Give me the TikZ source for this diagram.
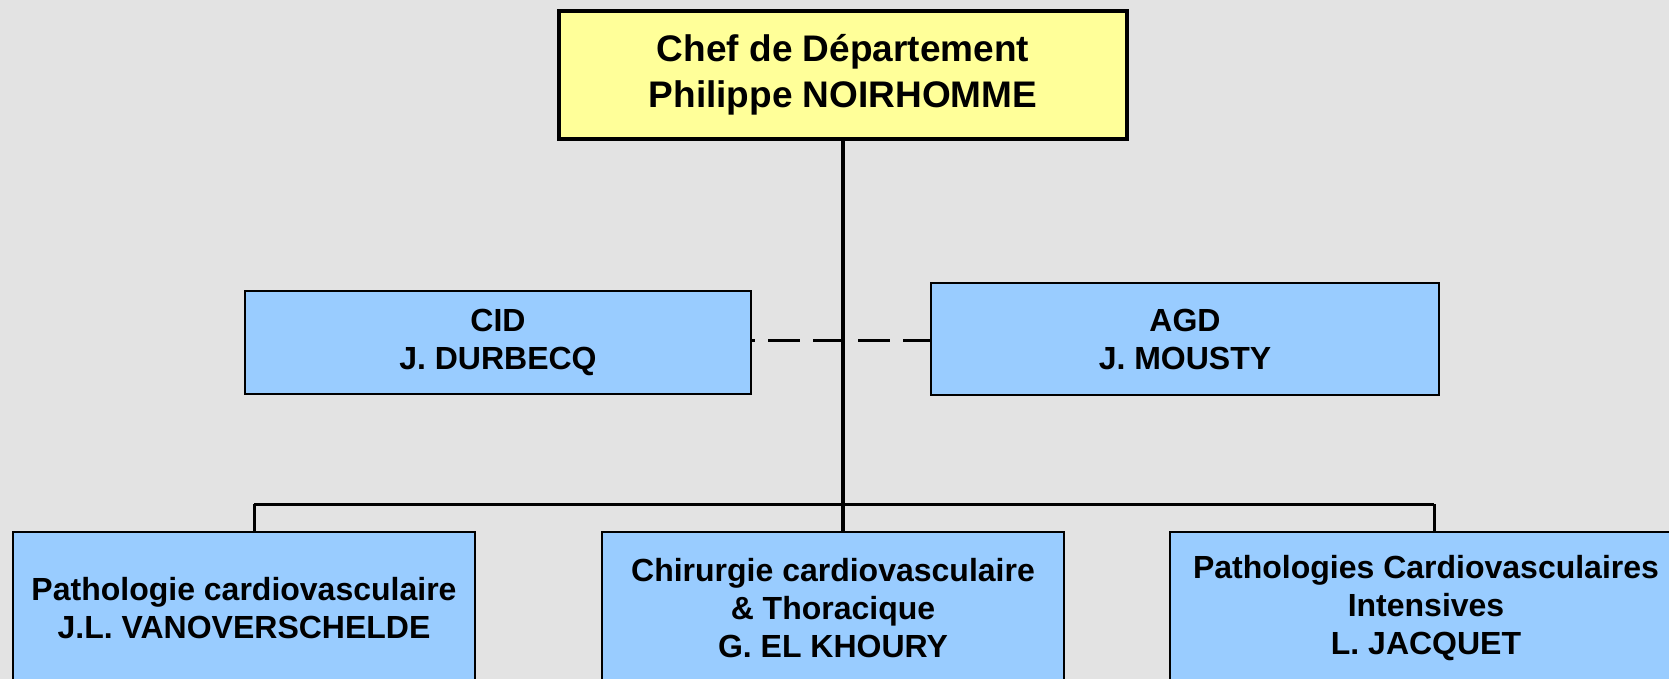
\documentclass[tikz,border=0pt]{standalone}
\usepackage{fontspec}
\setmainfont{Liberation Sans}
\definecolor{fondgris}{HTML}{E3E3E3}
\definecolor{jaunechef}{HTML}{FFFF99}
\definecolor{bleuservice}{HTML}{99CCFF}
\begin{document}
\begin{tikzpicture}[x=1pt,y=-1pt,line cap=butt,line join=miter,font=\bfseries]
		\tikzset{chefbox/.style={draw,fill=jaunechef,line width=4.5pt,inner sep=0pt,align=center,
				minimum width=568pt,minimum height=128pt,font=\bfseries\fontsize{37}{46}\selectfont},
			servbox/.style={draw,fill=bleuservice,line width=2.5pt,inner sep=0pt,align=center,
				minimum height=103pt,font=\bfseries\fontsize{32}{38}\selectfont},
			lien/.style={line width=3pt}}
		\useasboundingbox (0,0) rectangle (1669,679);
		\clip (0,0) rectangle (1669,679);
		\fill[fondgris] (0,0) rectangle (1669,679);
		%--------- Direction
		\node[chefbox] (chef) at (843,75) {Chef de Département\\Philippe NOIRHOMME};
		\node[servbox,minimum width=506pt] (cid) at (498,342.5) {CID\\J. DURBECQ};
		\node[servbox,minimum width=508pt,minimum height=112pt] (agd) at (1185,339) {AGD\\J. MOUSTY};
		%--------- Services
		\node[servbox,minimum width=462pt,minimum height=152pt] (patho) at (244,608) {Pathologie cardiovasculaire\\J.L. VANOVERSCHELDE};
		\node[servbox,minimum width=462pt,minimum height=152pt] (chir) at (833,608) {Chirurgie cardiovasculaire\\\& Thoracique\\G. EL KHOURY};
		\node[servbox,minimum width=512pt,minimum height=152pt] (intens) at (1426,608) {Pathologies Cardiovasculaires\\Intensives\\L. JACQUET};
		%--------- Liens
		\coordinate (barreG) at (254,504);
		\coordinate (barreD) at (1434,504);
		\draw[lien,line width=3.5pt] (chef.south) -- (chef.south |- chir.north);
		\draw[lien] (barreG) -- (barreD);
		\draw[lien] (barreG) -- (barreG |- patho.north);
		\draw[lien] (barreD) -- (barreD |- intens.north);
		\draw[lien,dash pattern=on 32pt off 13pt,dash phase=29pt] ([yshift=2pt]cid.east) -- ([yshift=2pt]cid.east -| agd.west);
	\end{tikzpicture}
\end{document}
